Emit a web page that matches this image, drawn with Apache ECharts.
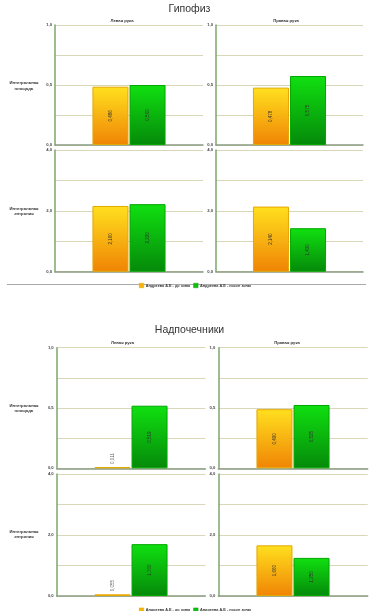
<!DOCTYPE html>
<html><head><meta charset="utf-8">
<script src="https://cdn.jsdelivr.net/npm/echarts@6/dist/echarts.min.js"></script>
<style>html,body{margin:0;padding:0;background:#fff}#c{width:379px;height:611px}</style>
</head><body><div id="c"></div>
<script>
const sections = ['Гипофиз', 'Надпочечники'];
const categories = ['Левая рука', 'Правая рука'];
const metrics = ['Интегральная\nплощадь', 'Интегральная\nэнтропия'];
const seriesNames = ['Андреева А.Е - до зоны', 'Андреева А.Е - после зоны'];
const hypoAreaBefore = [0.486, 0.478];
const hypoAreaAfter = [0.500, 0.575];
const hypoEntropyBefore = [2.160, 2.140];
const hypoEntropyAfter = [2.220, 1.430];
const adrenAreaBefore = [0.011, 0.490];
const adrenAreaAfter = [0.519, 0.525];
const adrenEntropyBefore = [0.055, 1.660];
const adrenEntropyAfter = [1.700, 1.250];
const areaTicks = ['0,0', '0,5', '1,0'];
const entropyTicks = ['0,0', '2,0', '4,0'];

const chart = echarts.init(document.getElementById('c'), null, {renderer: 'canvas'});

const values = [
  [[hypoAreaBefore, hypoAreaAfter], [hypoEntropyBefore, hypoEntropyAfter]],
  [[adrenAreaBefore, adrenAreaAfter], [adrenEntropyBefore, adrenEntropyAfter]]
];
const axisSpec = [
  {max: 1, interval: 0.25, ticks: areaTicks},
  {max: 4, interval: 1, ticks: entropyTicks}
];
// layout (pixels)
const rowBox = [
  [[25, 120], [150, 121.7]],
  [[347.7, 120.6], [474, 122]]
];
const colBox = [
  [[55, 148], [216, 147]],
  [[56.7, 148.6], [218.3, 149.4]]
];
const yellowGrad = new echarts.graphic.LinearGradient(0, 0, 0, 1, [
  {offset: 0, color: '#ffe01e'}, {offset: 1, color: '#f08405'}]);
const greenGrad = new echarts.graphic.LinearGradient(0, 0, 0, 1, [
  {offset: 0, color: '#10e010'}, {offset: 1, color: '#05890a'}]);
const fills = [yellowGrad, greenGrad];
const borders = ['#e4a800', '#00a800'];
const legendColors = ['#f7b20f', '#10c010'];

const grids = [], xAxes = [], yAxes = [], series = [];
let gi = 0;
for (let s = 0; s < 2; s++) {
  for (let m = 0; m < 2; m++) {
    for (let c = 0; c < 2; c++) {
      const [top, h] = rowBox[s][m];
      const [left, w] = colBox[s][c];
      grids.push({left: left, top: top, width: w, height: h, containLabel: false});
      xAxes.push({
        type: 'category', gridIndex: gi, data: [categories[c]],
        axisLine: {lineStyle: {color: '#8c9c84', width: 1.5}},
        axisTick: {show: false}, axisLabel: {show: false}
      });
      const spec = axisSpec[m];
      yAxes.push({
        type: 'value', gridIndex: gi, min: 0, max: spec.max, interval: spec.interval,
        axisLine: {show: true, lineStyle: {color: '#7da66e', width: 1.5}},
        axisTick: {show: false},
        splitLine: {lineStyle: {color: '#d8d8b8', width: 1}},
        axisLabel: {
          fontSize: 4.2, fontWeight: 'bold', color: '#444', margin: 3,
          formatter: (v) => {
            const idx = [0, spec.max / 2, spec.max].indexOf(v);
            return idx >= 0 ? spec.ticks[idx] : '';
          }
        }
      });
      for (let k = 0; k < 2; k++) {
        const v = values[s][m][k][c];
        const small = v < spec.max * 0.08;
        series.push({
          type: 'bar', name: seriesNames[k], xAxisIndex: gi, yAxisIndex: gi,
          barWidth: 36, barGap: '3%',
          itemStyle: {color: fills[k], borderColor: borders[k], borderWidth: 1},
          data: [{
            value: v,
            label: {
              show: true, rotate: 90,
              position: small ? 'top' : 'inside',
              align: small ? 'left' : 'center',
              verticalAlign: 'middle',
              distance: 3,
              fontSize: 4.5, color: small ? '#666' : '#333',
              formatter: (p) => p.value.toFixed(3).replace('.', ',')
            }
          }]
        });
      }
      gi++;
    }
  }
}

const graphics = [];
const titleY = [10, 331];
const headY = [20.7, 342.7];
const headX = [[122, 286], [122.5, 287]];
const rowLabelY = [[86, 211.5], [408.5, 534.5]];
for (let s = 0; s < 2; s++) {
  graphics.push({type: 'text', left: 'center', top: titleY[s] - 6,
    style: {text: sections[s], fontSize: 10.5, fill: '#333', fontFamily: 'Liberation Sans, Arial, sans-serif'}});
  for (let c = 0; c < 2; c++) {
    graphics.push({type: 'text', x: headX[s][c], y: headY[s],
      style: {text: categories[c], fontSize: 4.2, fontWeight: 'bold', fill: '#333', align: 'center', verticalAlign: 'middle'}});
  }
  for (let m = 0; m < 2; m++) {
    graphics.push({type: 'text', x: 24, y: rowLabelY[s][m],
      style: {text: metrics[m], fontSize: 4.2, fontWeight: 'bold', fill: '#333', align: 'center', verticalAlign: 'middle', lineHeight: 5.5}});
  }
}
graphics.push({type: 'line', shape: {x1: 7, y1: 284.5, x2: 366, y2: 284.5},
  style: {stroke: '#aaaaaa', lineWidth: 1}});

const legendStyle = (top) => ({
  top: top, left: 134, itemWidth: 4.5, itemHeight: 4.5, itemGap: 3,
  icon: 'rect',
  data: seriesNames.map((n, i) => ({name: n, itemStyle: {color: legendColors[i], borderColor: borders[i], borderWidth: 0.5}})),
  textStyle: {fontSize: 3.8, fontWeight: 'bold', color: '#333', padding: [0, 0, 0, -3]},
  selectedMode: false
});

chart.setOption({
  animation: false,
  grid: grids, xAxis: xAxes, yAxis: yAxes, series: series,
  legend: [legendStyle(278), legendStyle(602.7)],
  graphic: graphics
});
</script></body></html>
